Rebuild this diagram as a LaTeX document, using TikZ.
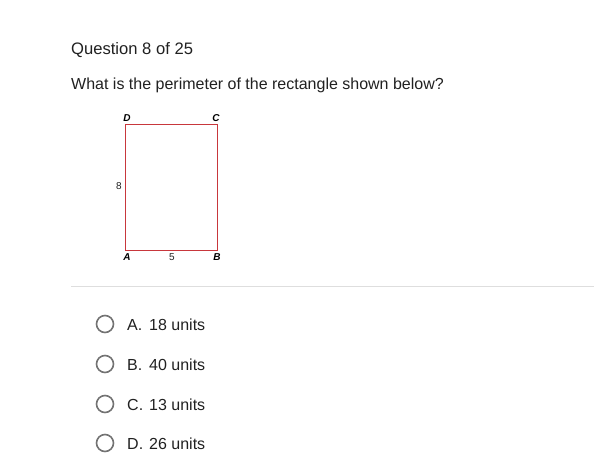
\documentclass[tikz,border=0pt]{standalone}
\usepackage{fontspec}
\setmainfont{Liberation Sans}
\definecolor{quiztext}{RGB}{33,33,33}
\definecolor{rectred}{RGB}{200,55,60}
\definecolor{radiogray}{RGB}{115,115,115}
\definecolor{rulegray}{RGB}{222,222,222}

\begin{document}
\begin{tikzpicture}[x=1pt,y=-1pt,
  qtext/.style={anchor=base west,inner sep=0pt,text=quiztext,font=\fontsize{16}{19}\selectfont},
  corner/.style={inner sep=0pt,font=\fontsize{10}{11}\selectfont\bfseries\itshape},
  side/.style={inner sep=0pt,text=quiztext,font=\fontsize{10}{11}\selectfont},
  radio/.style={circle,draw=radiogray,line width=1.6pt,minimum size=17pt,inner sep=0pt}]
\useasboundingbox [fill=white] (0,0) rectangle (594,471);
\node [qtext,font=\fontsize{16.6}{19}\selectfont] (head) at (71,54) {Question 8 of 25};
\node [qtext] (ask) at (71,89) {What is the perimeter of the rectangle shown below?};
% rectangle ABCD
\coordinate (A) at (125,250);
\coordinate (B) at (217,250);
\coordinate (C) at (217,124);
\coordinate (D) at (125,124);
\draw [rectred,line width=0.8pt] (A) -- (B) -- (C) -- (D) -- cycle;
\node [corner] (lA) at (127,257) {A};
\node [corner] (lB) at (217,257) {B};
\node [corner] (lC) at (216,118) {C};
\node [corner] (lD) at (127,118) {D};
\node [side] (l8) at (119,186) {8};
\node [side] (l5) at (172,257) {5};
% separator
\coordinate (s1) at (71,286);
\coordinate (s2) at (594,286);
\draw [rulegray,line width=0.8pt] (s1) -- (s2);
% answers
\foreach \y/\k/\v in {324/A/18,364/B/40,404/C/13,443/D/26}{
  \node [radio] (r\k) at (105,\y) {};
  \node [qtext] (t\k) at (127,\y+6) {\k.};
  \node [qtext] (u\k) at (149,\y+6) {\v\ units};
}
\end{tikzpicture}
\end{document}
